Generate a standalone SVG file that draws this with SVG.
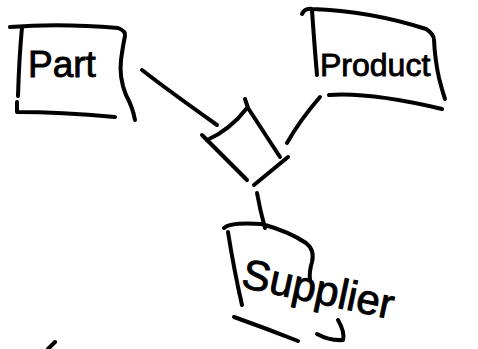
<svg xmlns="http://www.w3.org/2000/svg" width="478" height="349" viewBox="0 0 478 349">
<style>
.s{fill:none;stroke:#000;stroke-width:4;stroke-linecap:round;stroke-linejoin:round}
.t{font-family:"Liberation Sans",Arial,sans-serif;fill:#000;stroke:#000;stroke-width:0.9}
</style>
<rect width="478" height="349" fill="#fff"/>
<g id="part">
<path class="s" d="M10,27 Q60,23 118,28 Q126,31 125,36 Q123,45 121,60 Q119,78 126,95 Q133,108 135,120"/>
<path class="s" d="M22,27 Q19,60 18,96"/>
<path class="s" d="M17,102 L17,112 Q60,112 115,117"/>
<text class="t" x="28" y="77" font-size="37">Part</text>
</g>
<g id="product">
<path class="s" d="M302,14 Q305,8 312,9 Q370,11 426,29 Q434,34 434,40 Q435,60 439,78 Q442,90 445,99"/>
<path class="s" d="M312,10 Q314,40 317,75"/>
<path class="s" d="M329,95 Q370,92 442,109"/>
<text class="t" x="320" y="76" font-size="32">Product</text>
</g>
<g id="supplier">
<path class="s" d="M224,228 Q230,222 262,224 Q290,232 306,243 Q315,250 312,262 Q309,272 310,280"/>
<path class="s" d="M228,232 Q234,270 242,305"/>
<path class="s" d="M234,317 Q265,328 298,341"/>
<path class="s" d="M317,334 Q330,341 343,340 Q345,332 338,320"/>
<text class="t" x="240" y="287" font-size="42" transform="rotate(12 240 287)">Supplier</text>
</g>
<g id="relationship">
<path class="s" d="M202,135 L207,140 Q230,130 247,108"/>
<path class="s" d="M245,99 L248,108 L280,157"/>
<path class="s" d="M207,140 L247,180"/>
<path class="s" d="M288,157 L254,185" stroke-width="5.5"/>
</g>
<g id="connectors">
<path class="s" d="M142,70 Q165,88 217,125"/>
<path class="s" d="M320,97 Q300,120 287,143"/>
<path class="s" d="M257,193 Q260,210 265,228"/>
<path class="s" d="M55,342 L48,349"/>
</g>
</svg>
